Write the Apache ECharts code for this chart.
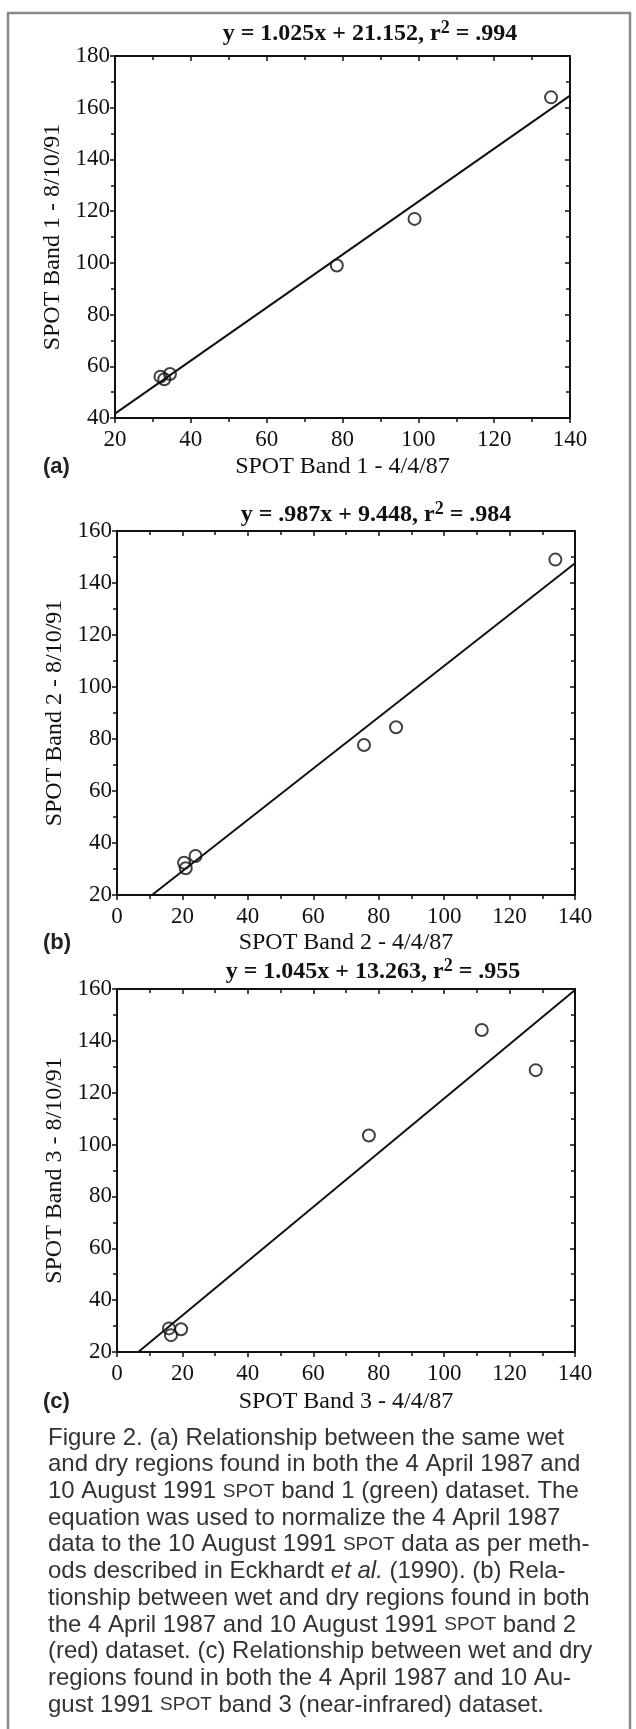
<!DOCTYPE html>
<html>
<head>
<meta charset="utf-8">
<script src="https://cdn.jsdelivr.net/npm/echarts@6/dist/echarts.min.js"></script>
<style>
html,body{margin:0;padding:0;background:#fff;}
#c{width:636px;height:1729px;}
</style>
</head>
<body>
<div id="c"></div>
<script>
// ---------- data ----------
const panelLetters = ['(a)', '(b)', '(c)'];
const equations = [
  'y = 1.025x + 21.152, r{sup|2} = .994',
  'y = .987x + 9.448, r{sup|2} = .984',
  'y = 1.045x + 13.263, r{sup|2} = .955'
];
const xNames = ['SPOT Band 1 - 4/4/87', 'SPOT Band 2 - 4/4/87', 'SPOT Band 3 - 4/4/87'];
const yNames = ['SPOT Band 1 - 8/10/91', 'SPOT Band 2 - 8/10/91', 'SPOT Band 3 - 8/10/91'];
const xMin = [20, 0, 0];
const xMax = [140, 140, 140];
const yMin = [40, 20, 20];
const yMax = [180, 160, 160];
const tickStep = 20;

const pointsA = [[32, 56], [33, 55], [34.5, 57], [78.5, 99], [99, 117], [135, 164]];
const pointsB = [[20.5, 32.4], [21, 30.3], [24, 35], [75.5, 77.7], [85.3, 84.5], [134, 149]];
const pointsC = [[15.9, 29.1], [16.5, 26.5], [19.6, 28.8], [77, 103.5], [111.5, 144.2], [128, 128.7]];

const fitA = [[20, 41.7], [140, 164.7]];
const fitB = [[10.7, 20], [140, 147.6]];
const fitC = [[6.5, 20], [140, 159.6]];

const captionLines = [
  'Figure 2. (a) Relationship between the same wet',
  'and dry regions found in both the 4 April 1987 and',
  '10 August 1991 {sc|SPOT} band 1 (green) dataset. The',
  'equation was used to normalize the 4 April 1987',
  'data to the 10 August 1991 {sc|SPOT} data as per meth-',
  'ods described in Eckhardt {it|et al.} (1990). (b) Rela-',
  'tionship between wet and dry regions found in both',
  'the 4 April 1987 and 10 August 1991 {sc|SPOT} band 2',
  '(red) dataset. (c) Relationship between wet and dry',
  'regions found in both the 4 April 1987 and 10 Au-',
  'gust 1991 {sc|SPOT} band 3 (near-infrared) dataset.'
];

// ---------- layout / style ----------
const points = [pointsA, pointsB, pointsC];
const fits = [fitA, fitB, fitC];
const SERIF = '"Liberation Serif", "Times New Roman", serif';
const SANS = '"Liberation Sans", Arial, sans-serif';
const INK = '#111';
const grids = [
  {left: 115, top: 56, width: 455, height: 362},
  {left: 117, top: 531, width: 458, height: 364},
  {left: 117, top: 989, width: 458, height: 363}
];
const titleY = [34, 515, 972];
const titleX = [370, 376, 373];
const letterY = [467, 943, 1402];
const xNameGap = [37, 36, 38];
const yNameGap = [50, 48, 50];

const xAxes = [], yAxes = [], series = [];
for (let i = 0; i < 3; i++) {
  const common = {
    type: 'value', gridIndex: i, interval: tickStep,
    splitLine: {show: false},
    axisLine: {show: true, onZero: false, lineStyle: {color: INK, width: 2}},
  };
  xAxes.push(Object.assign({}, common, {
    position: 'bottom', min: xMin[i], max: xMax[i],
    axisTick: {show: true, inside: false, length: 5, lineStyle: {color: INK, width: 1.5}},
    minorTick: {show: true, splitNumber: 2, length: 4, lineStyle: {color: INK, width: 1.5}},
    axisLabel: {show: true, margin: 10, fontFamily: SERIF, fontSize: 23, color: INK},
    name: xNames[i], nameLocation: 'middle', nameGap: xNameGap[i],
    nameTextStyle: {fontFamily: SERIF, fontSize: 24, color: INK}
  }));
  xAxes.push(Object.assign({}, common, {
    position: 'top', min: xMin[i], max: xMax[i],
    axisTick: {show: true, inside: true, length: 5, lineStyle: {color: INK, width: 1.5}},
    minorTick: {show: true, splitNumber: 2, length: 4, lineStyle: {color: INK, width: 1.5}},
    axisLabel: {show: false}
  }));
  yAxes.push(Object.assign({}, common, {
    position: 'left', min: yMin[i], max: yMax[i],
    axisTick: {show: true, inside: false, length: 5, lineStyle: {color: INK, width: 1.5}},
    minorTick: {show: true, splitNumber: 2, length: 4, lineStyle: {color: INK, width: 1.5}},
    axisLabel: {show: true, margin: 5, fontFamily: SERIF, fontSize: 23, color: INK},
    name: yNames[i], nameLocation: 'middle', nameGap: yNameGap[i], nameRotate: 90,
    nameTextStyle: {fontFamily: SERIF, fontSize: 24, color: INK}
  }));
  yAxes.push(Object.assign({}, common, {
    position: 'right', min: yMin[i], max: yMax[i],
    axisTick: {show: true, inside: true, length: 5, lineStyle: {color: INK, width: 1.5}},
    minorTick: {show: true, splitNumber: 2, length: 4, lineStyle: {color: INK, width: 1.5}},
    axisLabel: {show: false}
  }));
  series.push({
    type: 'line', xAxisIndex: 2 * i, yAxisIndex: 2 * i, data: fits[i],
    showSymbol: false, symbol: 'none', silent: true,
    lineStyle: {color: INK, width: 2}
  });
  series.push({
    type: 'scatter', xAxisIndex: 2 * i, yAxisIndex: 2 * i, data: points[i],
    symbol: 'circle', symbolSize: 12,
    itemStyle: {color: 'rgba(0,0,0,0)', borderColor: INK, borderWidth: 2}
  });
}

const graphics = [];
// outer frame
graphics.push({type: 'polyline', silent: true, shape: {points: [[8, 1729], [8, 13], [630, 13], [630, 1729]]},
  style: {stroke: '#8a8a8a', lineWidth: 2.5, fill: null}});
for (let i = 0; i < 3; i++) {
  graphics.push({type: 'text', x: titleX[i], y: titleY[i], silent: true,
    style: {text: equations[i], align: 'center', verticalAlign: 'middle',
      fontFamily: SERIF, fontSize: 24, fontWeight: 'bold', fill: INK, lineHeight: 30,
      rich: {sup: {fontFamily: SERIF, fontSize: 18, fontWeight: 'bold', fill: INK, verticalAlign: 'top', lineHeight: 14}}}});
  graphics.push({type: 'text', x: 43, y: letterY[i], silent: true,
    style: {text: panelLetters[i], align: 'left', verticalAlign: 'middle',
      fontFamily: SANS, fontSize: 22, fontWeight: 'bold', fill: '#222'}});
}
captionLines.forEach((line, k) => {
  graphics.push({type: 'text', x: 48, y: 1438 + k * 26.7, silent: true,
    style: {text: line, align: 'left', verticalAlign: 'middle',
      fontFamily: SANS, fontSize: 24, fill: '#333',
      rich: {
        sc: {fontFamily: SANS, fontSize: 19, fill: '#333'},
        it: {fontFamily: SANS, fontSize: 24, fontStyle: 'italic', fill: '#333'}
      }}});
});

const chart = echarts.init(document.getElementById('c'));
chart.setOption({
  animation: false,
  backgroundColor: '#fff',
  grid: grids,
  xAxis: xAxes,
  yAxis: yAxes,
  series: series,
  graphic: graphics
});
</script>
</body>
</html>
